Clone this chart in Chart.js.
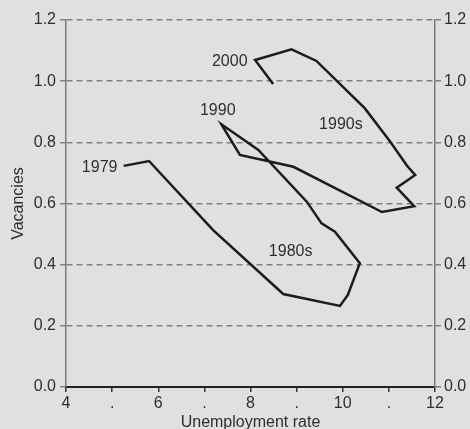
<!DOCTYPE html>
<html>
<head>
<meta charset="utf-8">
<script src="https://cdn.jsdelivr.net/npm/chart.js@4/dist/chart.umd.min.js"></script>
<style>
html,body{margin:0;padding:0;background:#e0e0e0;}
#wrap{width:470px;height:429px;}
</style>
</head>
<body>
<div id="wrap"><canvas id="c" width="470" height="429"></canvas></div>
<script>
// Unemployment rate (x) and vacancies (y), path from 1979 to 2000
const unemployment = [5.25, 5.80, 7.19, 8.71, 9.94, 10.11, 10.37, 9.83, 9.54, 9.22, 8.17, 7.37, 7.77, 8.93, 10.85, 11.55, 11.17, 11.57, 11.39, 11.03, 10.48, 9.43, 8.89, 8.10, 8.49];
const vacancies    = [0.723, 0.739, 0.513, 0.304, 0.265, 0.301, 0.405, 0.508, 0.535, 0.606, 0.775, 0.859, 0.759, 0.720, 0.572, 0.591, 0.652, 0.693, 0.724, 0.802, 0.911, 1.066, 1.104, 1.069, 0.991];

const labelTexts = ['1979', '1990', '2000', '1990s', '1980s'];
const labelX     = [4.73, 7.29, 7.55, 9.96, 8.87];
const labelY     = [0.719, 0.903, 1.063, 0.857, 0.442];

const xTicks = [4, 5, 6, 7, 8, 9, 10, 11, 12];
const yTicks = [0.0, 0.2, 0.4, 0.6, 0.8, 1.0, 1.2];

const FONT = "'Liberation Sans', Arial, sans-serif";
const TXT = '#2e2e2e';
const FS = 16;

const points = unemployment.map((u, i) => ({x: u, y: vacancies[i]}));

const bgPlugin = {
  id: 'bg',
  beforeDraw(chart) {
    const ctx = chart.ctx;
    ctx.save();
    ctx.fillStyle = '#e0e0e0';
    ctx.fillRect(0, 0, chart.width, chart.height);
    ctx.restore();
  }
};

const textPlugin = {
  id: 'texts',
  afterDatasetsDraw(chart) {
    const ctx = chart.ctx;
    const xs = chart.scales.x, ys = chart.scales.y;
    ctx.save();
    ctx.font = FS + 'px ' + FONT;
    ctx.fillStyle = TXT;
    ctx.textAlign = 'center';
    ctx.textBaseline = 'middle';
    labelTexts.forEach((t, i) => {
      ctx.fillText(t, xs.getPixelForValue(labelX[i]), ys.getPixelForValue(labelY[i]));
    });
    ctx.restore();
  }
};

new Chart(document.getElementById('c'), {
  type: 'scatter',
  data: {
    datasets: [{
      data: points,
      showLine: true,
      borderColor: '#1c1c1c',
      borderWidth: 2.5,
      pointRadius: 0,
      tension: 0,
      fill: false
    }]
  },
  options: {
    responsive: false,
    animation: false,
    events: [],
    layout: {padding: {top: 20, left: 0, right: 0, bottom: 0}},
    plugins: {legend: {display: false}, tooltip: {enabled: false}},
    scales: {
      x: {
        type: 'linear', position: 'bottom', min: 4, max: 12,
        afterBuildTicks(s) { s.ticks = xTicks.map(v => ({value: v})); },
        afterFit(s) { s.height = 42; },
        grid: {drawOnChartArea: false, drawTicks: true, tickLength: 5, color: '#333', lineWidth: 1.5},
        border: {display: true, color: '#222', width: 2},
        ticks: {
          font: {family: FONT, size: FS}, color: TXT, padding: 2, maxRotation: 0, autoSkip: false,
          callback: v => (v % 2 === 0 ? String(v) : '.')
        },
        title: {display: true, text: 'Unemployment rate', font: {family: FONT, size: FS, lineHeight: 0.8}, color: TXT, padding: {top: 0, bottom: 0}}
      },
      y: {
        type: 'linear', position: 'left', min: 0, max: 1.2,
        afterBuildTicks(s) { s.ticks = yTicks.map(v => ({value: v})); },
        afterFit(s) { s.width = 66; },
        grid: {color: '#808080', lineWidth: 1.5, tickLength: 6, tickColor: '#808080'},
        border: {display: true, color: '#7a7a7a', width: 1.5, dash: [6, 4]},
        ticks: {font: {family: FONT, size: FS}, color: TXT, padding: 4, callback: v => Number(v).toFixed(1)},
        title: {display: true, text: 'Vacancies', font: {family: FONT, size: FS, lineHeight: 1}, color: TXT, padding: {top: 11, bottom: 0}}
      },
      y2: {
        type: 'linear', position: 'right', min: 0, max: 1.2,
        afterBuildTicks(s) { s.ticks = yTicks.map(v => ({value: v})); },
        afterFit(s) { s.width = 35; },
        grid: {drawOnChartArea: false, color: '#808080', lineWidth: 1.5, tickLength: 6},
        border: {display: true, color: '#7a7a7a', width: 1.5},
        ticks: {font: {family: FONT, size: FS}, color: TXT, padding: 3, callback: v => Number(v).toFixed(1)}
      }
    }
  },
  plugins: [bgPlugin, textPlugin]
});
</script>
</body>
</html>
